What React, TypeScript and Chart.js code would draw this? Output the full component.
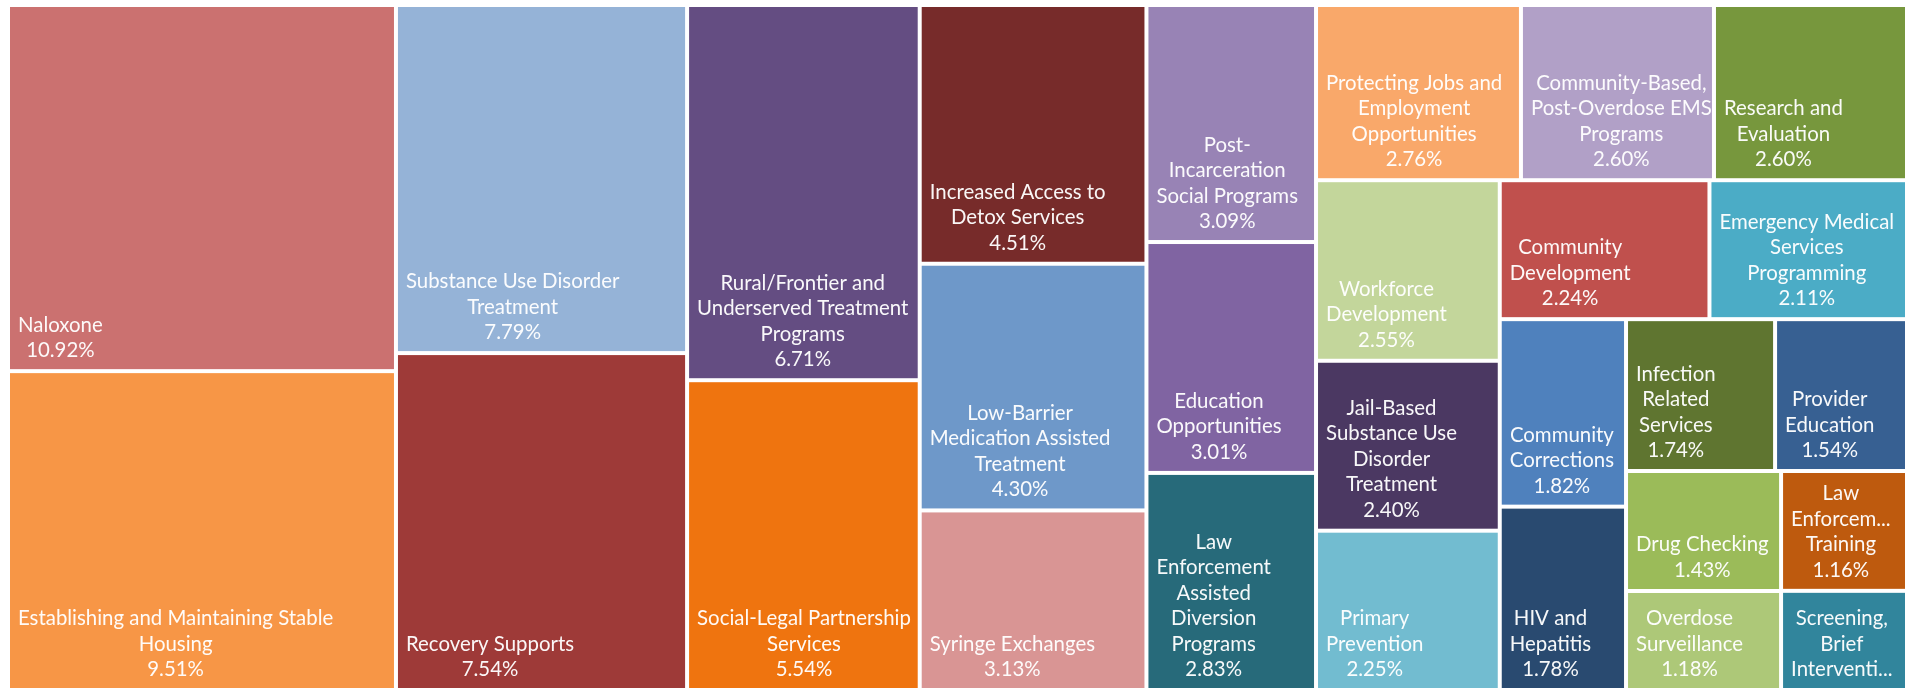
import React, { useEffect, useRef } from "react";
import { Chart, registerables } from "chart.js";

Chart.register(...registerables);

// ---------- data ----------
const categories: string[] = [
  "Naloxone",
  "Establishing and Maintaining Stable Housing",
  "Substance Use Disorder Treatment",
  "Recovery Supports",
  "Rural/Frontier and Underserved Treatment Programs",
  "Social-Legal Partnership Services",
  "Increased Access to Detox Services",
  "Low-Barrier Medication Assisted Treatment",
  "Syringe Exchanges",
  "Post-Incarceration Social Programs",
  "Education Opportunities",
  "Law Enforcement Assisted Diversion Programs",
  "Protecting Jobs and Employment Opportunities",
  "Community-Based, Post-Overdose EMS Programs",
  "Research and Evaluation",
  "Workforce Development",
  "Jail-Based Substance Use Disorder Treatment",
  "Primary Prevention",
  "Community Development",
  "Emergency Medical Services Programming",
  "Community Corrections",
  "HIV and Hepatitis",
  "Infection Related Services",
  "Provider Education",
  "Drug Checking",
  "Overdose Surveillance",
  "Law Enforcement Training",
  "Screening, Brief Intervention",
];

const values: number[] = [
  10.92, 9.51, 7.79, 7.54, 6.71, 5.54, 4.51, 4.3, 3.13, 3.09, 3.01, 2.83,
  2.76, 2.6, 2.6, 2.55, 2.4, 2.25, 2.24, 2.11, 1.82, 1.78, 1.74, 1.54, 1.43,
  1.18, 1.16, 0.96,
];

// label lines as displayed (wrapped / truncated like the reference)
const labelLines: string[][] = [
  ["Naloxone"],
  ["Establishing and Maintaining Stable", "Housing"],
  ["Substance Use Disorder", "Treatment"],
  ["Recovery Supports"],
  ["Rural/Frontier and", "Underserved Treatment", "Programs"],
  ["Social-Legal Partnership", "Services"],
  ["Increased Access to", "Detox Services"],
  ["Low-Barrier", "Medication Assisted", "Treatment"],
  ["Syringe Exchanges"],
  ["Post-", "Incarceration", "Social Programs"],
  ["Education", "Opportunities"],
  ["Law", "Enforcement", "Assisted", "Diversion", "Programs"],
  ["Protecting Jobs and", "Employment", "Opportunities"],
  ["Community-Based,", "Post-Overdose EMS", "Programs"],
  ["Research and", "Evaluation"],
  ["Workforce", "Development"],
  ["Jail-Based", "Substance Use", "Disorder", "Treatment"],
  ["Primary", "Prevention"],
  ["Community", "Development"],
  ["Emergency Medical", "Services", "Programming"],
  ["Community", "Corrections"],
  ["HIV and", "Hepatitis"],
  ["Infection", "Related", "Services"],
  ["Provider", "Education"],
  ["Drug Checking"],
  ["Overdose", "Surveillance"],
  ["Law", "Enforcem...", "Training"],
  ["Screening,", "Brief", "Interventi..."],
];

// whether the percentage line is visible
const showValue: boolean[] = values.map((_, i) => i !== 27);

const colors: string[] = [
  "#CB7170", "#F79646", "#95B3D7", "#9E3A38", "#644D82", "#EF740F",
  "#772B2A", "#6E98C9", "#D99594", "#9883B5", "#8064A2", "#276A7A",
  "#F9A86A", "#B1A0C7", "#77973D", "#C3D69B", "#4B3862", "#72BCD0",
  "#C0504D", "#4BACC6", "#4F81BD", "#294A70", "#5F7530", "#376092",
  "#9BBB59", "#ADC878", "#BE5A0E", "#31859C",
];

// ---------- squarified layout ----------
type Rect = { x: number; y: number; w: number; h: number };

// aspect ratio of the most recently added item in a strip
function lastRatio(row: number[], side: number): number {
  const s = row.reduce((a, b) => a + b, 0);
  const a = row[row.length - 1];
  return Math.max((side * side * a) / (s * s), (s * s) / (side * side * a));
}

function squarify(vals: number[], rect: Rect): Rect[] {
  const total = vals.reduce((a, b) => a + b, 0);
  const k = (rect.w * rect.h) / total;
  const areas = vals.map((v) => v * k);
  const out: Rect[] = [];
  let r = { ...rect };
  let i = 0;
  while (i < areas.length) {
    const side = Math.min(r.w, r.h);
    let row = [areas[i]];
    let best = lastRatio(row, side);
    let j = i + 1;
    while (j < areas.length) {
      const nr = [...row, areas[j]];
      const wv = lastRatio(nr, side);
      if (wv <= best) {
        row = nr;
        best = wv;
        j++;
      } else break;
    }
    const s = row.reduce((a, b) => a + b, 0);
    if (r.w >= r.h) {
      const t = s / r.h;
      let yy = r.y;
      for (const a of row) {
        const h = a / t;
        out.push({ x: r.x, y: yy, w: t, h });
        yy += h;
      }
      r = { x: r.x + t, y: r.y, w: r.w - t, h: r.h };
    } else {
      const t = s / r.w;
      let xx = r.x;
      for (const a of row) {
        const w = a / t;
        out.push({ x: xx, y: r.y, w, h: t });
        xx += w;
      }
      r = { x: r.x, y: r.y + t, w: r.w, h: r.h - t };
    }
    i = j;
  }
  return out;
}

const FONT_SIZE = 20.4;
const LINE_H = 25.5;

const treemapPlugin = {
  id: "treemapCells",
  afterDatasetsDraw(chart: any) {
    const { ctx, chartArea, scales } = chart;
    const xs = scales.x;
    const ys = scales.y;
    const W = chartArea.right - chartArea.left;
    const H = chartArea.bottom - chartArea.top;
    const rects = squarify(values, { x: 0, y: 0, w: W, h: H });
    const gap = 2;
    ctx.save();
    rects.forEach((r, i) => {
      const x0 = xs.getPixelForValue((r.x / W) * 100);
      const x1 = xs.getPixelForValue(((r.x + r.w) / W) * 100);
      const y0 = ys.getPixelForValue((r.y / H) * 100);
      const y1 = ys.getPixelForValue(((r.y + r.h) / H) * 100);
      const l = Math.min(x0, x1) + gap;
      const rr = Math.max(x0, x1) - gap;
      const t = Math.min(y0, y1) + gap;
      const b = Math.max(y0, y1) - gap;
      ctx.fillStyle = colors[i];
      ctx.fillRect(l, t, rr - l, b - t);

      const lines = [...labelLines[i]];
      if (showValue[i]) lines.push(values[i].toFixed(2) + "%");
      ctx.font = `${FONT_SIZE}px Lato, "Open Sans", sans-serif`;
      ctx.fillStyle = "rgba(255,255,255,0.96)";
      ctx.textAlign = "center";
      ctx.textBaseline = "alphabetic";
      let bw = 0;
      for (const s of lines) bw = Math.max(bw, ctx.measureText(s).width);
      const cx = l + 8 + bw / 2;
      const lastBase = b - 12;
      lines.forEach((s, k) => {
        const yy = lastBase - (lines.length - 1 - k) * LINE_H;
        ctx.fillText(s, cx, yy);
      });
    });
    ctx.restore();
  },
};

export default function App() {
  const ref = useRef<HTMLCanvasElement | null>(null);
  useEffect(() => {
    if (!ref.current) return;
    const chart = new Chart(ref.current, {
      type: "scatter",
      data: { datasets: [{ data: [], label: "cells" }] },
      options: {
        animation: false,
        responsive: false,
        layout: { padding: { left: 8, top: 5, right: 0, bottom: 0 } },
        plugins: { legend: { display: false }, tooltip: { enabled: false } },
        scales: {
          x: { type: "linear", min: 0, max: 100, display: false },
          y: { type: "linear", min: 0, max: 100, reverse: true, display: false },
        },
      },
      plugins: [treemapPlugin],
    });
    const fs: any = (document as any).fonts;
    if (fs && fs.load) {
      fs.load(`${FONT_SIZE}px Lato`).then(() => chart.draw()).catch(() => {});
    }
    return () => chart.destroy();
  }, []);
  return (
    <div style={{ position: "fixed", left: 0, top: 0, width: 1907, height: 690, background: "#fff" }}>
      <canvas ref={ref} width={1907} height={690} style={{ display: "block" }} />
    </div>
  );
}
